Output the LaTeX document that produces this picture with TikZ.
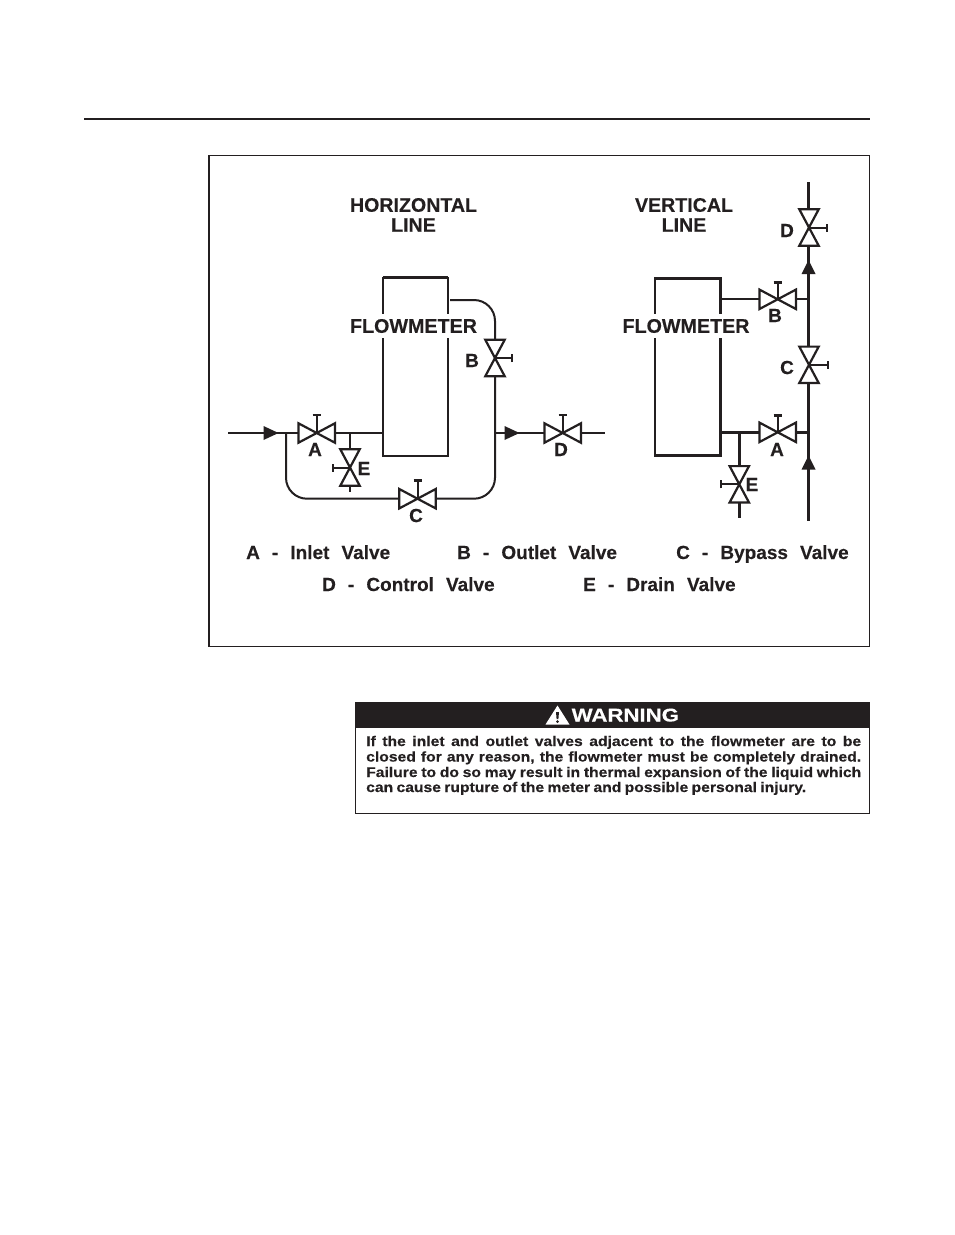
\documentclass[tikz,border=0pt]{standalone}
\usepackage{graphicx}
\usepackage{fontspec}
\setmainfont{Liberation Sans}[BoldFeatures={FakeBold=0.2}]
\newfontfamily\warnfont{Liberation Sans}[FakeStretch=1.12,BoldFeatures={FakeStretch=1.12,FakeBold=0.25}]
\newfontfamily\warnhead{Liberation Sans}[BoldFeatures={FakeStretch=1.2,FakeBold=0.3}]
\definecolor{ink}{HTML}{231F20}
\tikzset{
  pipe/.style={draw=ink,line width=2pt},
  pipeheavy/.style={draw=ink,line width=2.6pt},
  valvebody/.style={draw=ink,line width=2.2pt,line join=miter},
  hvalvebox/.style={minimum width=36pt,minimum height=19pt,inner sep=0pt},
  vvalvebox/.style={minimum width=19pt,minimum height=36pt,inner sep=0pt},
  lbl/.style={font=\fontsize{19}{21}\selectfont\bfseries,text=ink,inner sep=0pt},
  ttl/.style={font=\fontsize{19.6}{21}\selectfont\bfseries,text=ink,inner sep=0pt},
  meterbox/.style={draw=ink,line width=2pt,inner sep=0pt,outer sep=0pt},
  fmtext/.style={font=\fontsize{19.7}{21}\selectfont\bfseries,text=ink,fill=white,inner xsep=0pt,inner ysep=0pt,minimum height=24pt},
  legend/.style={font=\fontsize{19}{21}\selectfont\bfseries,text=ink,inner sep=0pt,anchor=base west},
  warnline/.style={font=\warnfont\fontsize{14}{15}\selectfont\bfseries,text=ink,inner sep=0pt,anchor=base west},
}
\newcommand{\hvalve}[3]{% name, position, handle length upward
  \node[hvalvebox] (#1) at (#2) {};
  \draw[valvebody] (#1.north west) -- (#1.south east) -- (#1.north east) -- (#1.south west) -- cycle;
  \draw[pipe] (#1.center) -- ++(0,-#3) coordinate (#1h);
  \draw[ink,line width=2.6pt] ([xshift=-4pt]#1h) -- ([xshift=4pt]#1h);
}
\newcommand{\vvalve}[3]{% name, position, signed handle length (+ right)
  \node[vvalvebox] (#1) at (#2) {};
  \draw[valvebody] (#1.north west) -- (#1.south east) -- (#1.south west) -- (#1.north east) -- cycle;
  \draw[pipe] (#1.center) -- ++(#3,0) coordinate (#1h);
  \draw[ink,line width=2.6pt] ([yshift=-4pt]#1h) -- ([yshift=4pt]#1h);
}
\newcommand{\arrowright}[1]{\fill[ink] (#1) -- ++(-15,-7) -- ++(0,14) -- cycle;}
\newcommand{\arrowup}[1]{\fill[ink] (#1) -- ++(-7,14) -- ++(14,0) -- cycle;}
\begin{document}
\begin{tikzpicture}[x=1pt,y=-1pt]
\useasboundingbox (0,0) rectangle (954,1235);
\fill[white] (0,0) rectangle (954,1235);
% page rule and frame
\coordinate (ruleL) at (84,119);
\coordinate (ruleR) at (870,119);
\draw[ink,line width=2pt] (ruleL) -- (ruleR);
\node[draw=ink,line width=1.4pt,inner sep=0pt,minimum width=660.5pt,minimum height=491pt,anchor=north west] (frame) at (208.3,155) {};
% titles
\node[ttl] (t1a) at (413.5,205) {HORIZONTAL};
\node[ttl] (t1b) at (413.5,225) {LINE};
\node[ttl] (t2a) at (684,205) {VERTICAL};
\node[ttl] (t2b) at (684,225) {LINE};

% ---------- horizontal line ----------
\node[meterbox,minimum width=65.5pt,minimum height=178pt,anchor=north west] (FMh) at (382.8,277.7) {};
\draw[pipeheavy] (FMh.north west) -- (FMh.north east);
\node[fmtext] (FMhT) at (413.5,326) {FLOWMETER};
\hvalve{hA}{316.7,433}{18}
\vvalve{hE}{350,467.5}{-17}
\hvalve{hC}{417.5,498.7}{18}
\vvalve{hB}{495,358}{17}
\hvalve{hD}{562.7,433}{18}
\coordinate (hIn) at (228,433);
\coordinate (hJ1) at (286,433);
\coordinate (hJE) at (350,433);
\coordinate (hJ2) at (495,433);
\coordinate (hOut) at (605,433);
\coordinate (hTop) at (450,300);
\coordinate (hEnd) at (350,492);
\draw[pipe] (hIn) -- (hA.west);
\draw[pipe] (hA.east) -- (hA.east -| FMh.west);
\draw[pipe] (hJE) -- (hE.north);
\draw[pipeheavy] (hE.south) -- (hEnd);
\draw[pipe,rounded corners=21pt] (hJ1) |- (hC.west);
\draw[pipe,rounded corners=21pt] (hC.east) -| (hB.south);
\draw[pipe,rounded corners=21pt] (hTop) -| (hB.north);
\draw[pipeheavy] (hTop) -- ++(16,0);
\draw[pipe] (hJ2) -- (hD.west);
\draw[pipe] (hD.east) -- (hOut);
\arrowright{278.5,433}
\arrowright{519.5,433}
\node[lbl] (lhA) at (315,449.5) {A};
\node[lbl] (lhE) at (364,468.5) {E};
\node[lbl] (lhC) at (416,515.5) {C};
\node[lbl] (lhD) at (561,449.5) {D};
\node[lbl] (lhB) at (472,360.5) {B};

% ---------- vertical line ----------
\node[meterbox,line width=2.6pt,minimum width=65.7pt,minimum height=177pt,anchor=north west] (FMv) at (655,278.3) {};
\node[fmtext] (FMvT) at (686,326) {FLOWMETER};
\vvalve{vD}{809,227.5}{18}
\hvalve{vB}{777.7,299.3}{17}
\vvalve{vC}{809,364.8}{19}
\hvalve{vA}{777.7,432.3}{17}
\vvalve{vE}{739.3,484.3}{-18.5}
\coordinate (vTop) at (808.5,182);
\coordinate (vBot) at (808.5,520.7);
\coordinate (vJE) at (739.3,432.3);
\coordinate (vEnd) at (739.3,518.3);
\draw[pipeheavy] (vTop) -- (vTop |- vD.north);
\draw[pipeheavy] (vTop |- vD.south) -- (vTop |- vC.north);
\draw[pipeheavy] (vTop |- vC.south) -- (vBot);
\draw[pipe] (vB.west -| FMv.east) -- (vB.west);
\draw[pipe] (vB.east) -- (vB.east -| vTop);
\draw[pipeheavy] (vA.west -| FMv.east) -- (vA.west);
\draw[pipeheavy] (vA.east) -- (vA.east -| vTop);
\draw[pipeheavy] (vJE) -- (vE.north);
\draw[pipeheavy] (vE.south) -- (vEnd);
\arrowup{808.5,260}
\arrowup{808.5,455.5}
\node[lbl] (lvD) at (787,230.5) {D};
\node[lbl] (lvB) at (775,315.5) {B};
\node[lbl] (lvC) at (787,367.5) {C};
\node[lbl] (lvA) at (777,449.5) {A};
\node[lbl] (lvE) at (752,484.5) {E};

% ---------- legend ----------
\node[legend] (k1) at (246,559) {A\hspace{6.8pt} -\hspace{6.8pt} Inlet\hspace{6.8pt} Valve};
\node[legend] (k2) at (457,559) {B\hspace{6.8pt} -\hspace{6.8pt} Outlet\hspace{6.8pt} Valve};
\node[legend] (k3) at (676,559) {C\hspace{6.8pt} -\hspace{6.8pt} Bypass\hspace{6.8pt} Valve};
\node[legend] (k4) at (322,591) {D\hspace{6.8pt} -\hspace{6.8pt} Control\hspace{6.8pt} Valve};
\node[legend] (k5) at (583,591) {E\hspace{6.8pt} -\hspace{6.8pt} Drain\hspace{6.8pt} Valve};

% ---------- warning ----------
\node[draw=ink,line width=1pt,inner sep=0pt,minimum width=514pt,minimum height=111pt,anchor=north west] (wbox) at (355.2,702.3) {};
\fill[ink] (354.7,701.8) rectangle (869.7,727.5);
\fill[white] (557.5,705.5) -- (569.5,724.5) -- (545.5,724.5) -- cycle;
\fill[ink] (556,712) -- (559,712) -- (558.4,719) -- (556.6,719) -- cycle;
\fill[ink] (557.5,721.6) circle (1.4);
\node[font=\warnhead\fontsize{18.5}{20}\selectfont\bfseries,text=white,inner sep=0pt,anchor=base west] (wt) at (571.5,721.5) {WARNING};
\node[warnline] (w1) at (366,746) {\makebox[495pt][s]{If the inlet and outlet valves adjacent to the flowmeter are to be}};
\node[warnline] (w2) at (366,761.5) {\makebox[495pt][s]{closed for any reason, the flowmeter must be completely drained.}};
\node[warnline] (w3) at (366,777) {\makebox[495pt][s]{Failure to do so may result in thermal expansion of the liquid which}};
\node[warnline] (w4) at (366,792) {\makebox[440pt][s]{can cause rupture of the meter and possible personal injury.}};
\end{tikzpicture}
\end{document}
